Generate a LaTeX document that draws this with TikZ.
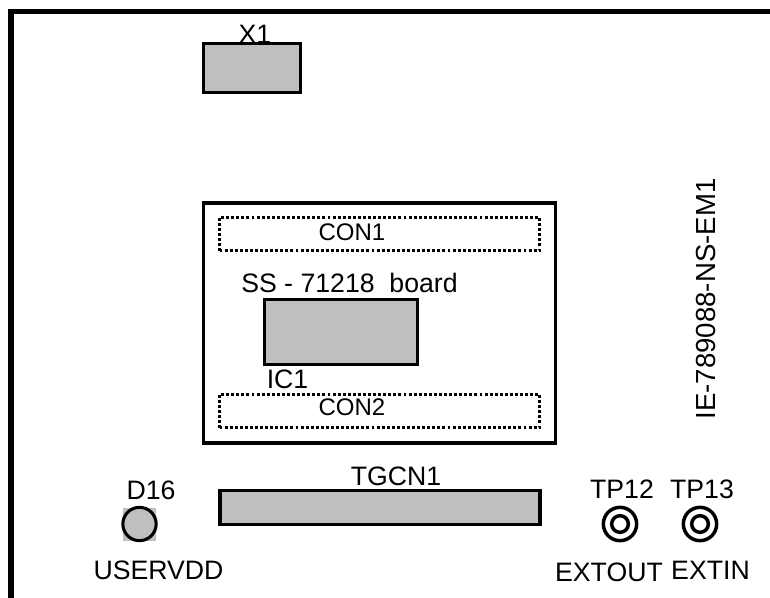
\documentclass[tikz,border=0pt]{standalone}
\usepackage{fontspec}
\setmainfont{Liberation Sans}
\tikzset{
    partbox/.style={draw, line width=2.3pt, fill=black!25, inner sep=0pt},
    conbox/.style={draw, line width=2.2pt, dash pattern=on 2.2pt off 1.6pt, inner sep=0pt},
    partlabel/.style={font=\fontsize{20}{22}\selectfont, inner sep=0pt},
    conlabel/.style={font=\fontsize{18}{20}\selectfont, inner sep=0pt},
    tpring/.style={draw, circle, line width=2.6pt, inner sep=0pt}
}
\begin{document}
\begin{tikzpicture}[x=0.75pt, y=-0.75pt]
        \useasboundingbox (0,0) rectangle (770,598);
        % board outline
        \draw[line width=4pt] (11,598) -- (11,11.5) -- (770,11.5);

        \node[partbox, minimum width=73pt, minimum height=37pt] (xone) at (252,68) {};
        \node[partlabel] (xonelabel) at (255,34.5) {X1};

        % SS board
        \node[draw, line width=2.3pt, minimum width=264pt, minimum height=180pt] (ssboard) at (379.5,323) {};
        \node[conbox, minimum width=240pt, minimum height=25pt] (conone) at (379.5,234) {};
        \node[conlabel] (conlabelone) at (352,232) {CON1};
        \node[partlabel] (sslabel) at (349.5,282.5) {SS - 71218~~board};
        \node[partbox, minimum width=115pt, minimum height=48.5pt] (icone) at (341,332) {};
        \node[partlabel] (iconelabel) at (287.5,379) {IC1};
        \node[conbox, minimum width=240pt, minimum height=25pt] (contwo) at (379.5,411) {};
        \node[conlabel] (conlabeltwo) at (352,407) {CON2};

        \node[partlabel, font=\fontsize{20.7}{24}\selectfont, rotate=90] (boardname) at (705.5,299) {IE-789088-NS-EM1};

        % bottom row
        \node[partbox, minimum width=240pt, minimum height=25pt] (tgcn) at (380,507.5) {};
        \node[partlabel] (tgcnlabel) at (396,476) {TGCN1};
        \fill[black!25] (123,508) rectangle (156,541);
        \node[draw, circle, line width=2.3pt, fill=black!25, minimum size=25pt, inner sep=0pt] (dled) at (139.5,524) {};
        \node[partlabel] (dledlabel) at (151,490) {D16};
        \node[partlabel] (userlabel) at (158.5,570) {USERVDD};

        \node[tpring, minimum size=25pt] (tptwelve) at (620,524) {};
        \node[tpring, minimum size=12.5pt] (tptwelvein) at (620,524) {};
        \node[partlabel] (tptwelvelabel) at (622,489) {TP12};
        \node[partlabel] (extoutlabel) at (609,572) {EXTOUT};

        \node[tpring, minimum size=25pt] (tpthirteen) at (700,524) {};
        \node[tpring, minimum size=12.5pt] (tpthirteenin) at (700,524) {};
        \node[partlabel] (tpthirteenlabel) at (702,489) {TP13};
        \node[partlabel] (extinlabel) at (710.5,570) {EXTIN};
    \end{tikzpicture}
\end{document}
